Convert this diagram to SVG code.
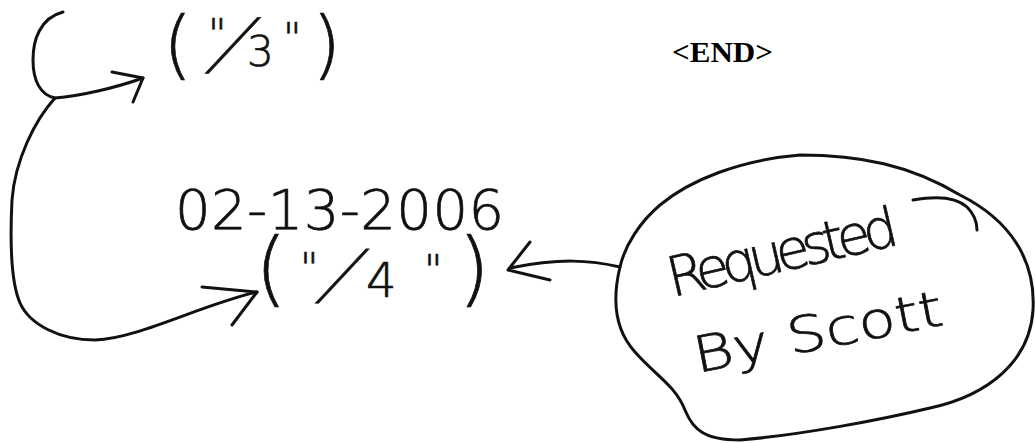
<svg xmlns="http://www.w3.org/2000/svg" width="1035" height="443" viewBox="0 0 1035 443">
  <defs>
    <style>
      .pen { fill: none; stroke: #111; stroke-width: 3; stroke-linecap: round; stroke-linejoin: round; }
      .hand { font-family: "DejaVu Sans", "Noto Sans", sans-serif; font-weight: 200; fill: #111; stroke: #111; stroke-width: 0.7; }
      .typed { font-family: "Liberation Serif", "DejaVu Serif", serif; font-weight: bold; fill: #000; }
    </style>
  </defs>
  <rect width="1035" height="443" fill="#fff"/>

  <!-- connectors -->
  <g id="connectors">
    <path class="pen" d="M63,12 C40,18 33,40 33,60 C33,80 40,95 55,98 C80,96 115,88 143,78"/>
    <path class="pen" d="M112,72 L143,78 L133,102"/>
    <path class="pen" d="M55,98 C35,120 15,160 12,200 C10,240 10,280 20,303 C30,325 60,340 95,340 C140,338 200,305 257,292"/>
    <path class="pen" d="M202,287 L257,292 L232,325"/>
    <path class="pen" d="M620,267 C590,260 560,258 510,268"/>
    <path class="pen" d="M530,242 L508,270 L550,280"/>
  </g>

  <!-- label ("/3") -->
  <g id="node-3">
    <text class="hand"><tspan x="163" y="70" font-size="75">(</tspan><tspan x="208" y="48" font-size="40">"</tspan><tspan x="247" y="66" font-size="42">3</tspan><tspan x="283" y="52" font-size="40">"</tspan><tspan x="312" y="70" font-size="75">)</tspan></text>
    <text class="hand" font-size="68" stroke-width="1.6" transform="translate(208,67) skewX(-32)">/</text>
  </g>

  <!-- end marker -->
  <g id="node-end">
    <text class="typed" x="672" y="62" font-size="30" textLength="101" lengthAdjust="spacingAndGlyphs">&lt;END&gt;</text>
  </g>

  <!-- date and label ("/4") -->
  <g id="node-4">
    <text class="hand"><tspan x="175" y="229" font-size="56" letter-spacing="0.4">02-13-2006</tspan><tspan x="255" y="296" font-size="82">(</tspan><tspan x="300" y="282" font-size="40">"</tspan><tspan x="366" y="297" font-size="48">4</tspan><tspan x="424" y="284" font-size="40">"</tspan><tspan x="458" y="296" font-size="82">)</tspan></text>
    <text class="hand" font-size="66" stroke-width="1.2" transform="translate(318,297) skewX(-32)">/</text>
  </g>

  <!-- request note in a cloud -->
  <g id="node-request">
    <path class="pen" d="M620,267 C612,300 615,330 635,352 C655,375 675,385 685,410 C693,430 705,440 740,440 C800,435 880,420 930,408 C990,395 1030,360 1033,310 C1036,260 1010,220 960,195 C910,165 860,155 800,155 C740,160 690,180 660,205 C640,222 625,245 620,267 Z"/>
    <path class="pen" stroke-width="2" d="M913,200 C935,196 955,196 967,207 C974,214 977,222 977,230"/>
    <text class="hand" x="672" y="297" font-size="55" textLength="235" lengthAdjust="spacing" transform="rotate(-13 672 297)">Requested</text>
    <text class="hand" font-size="50" transform="translate(697,373) rotate(-11) scale(1.22,1)">By Scott</text>
  </g>
</svg>
